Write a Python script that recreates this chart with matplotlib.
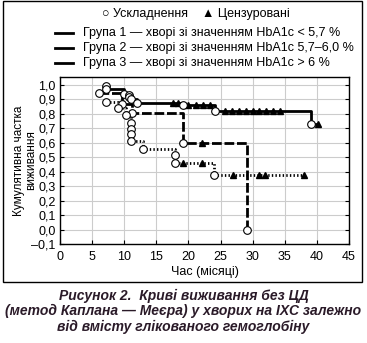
import numpy as np
import matplotlib
matplotlib.use('Agg')
import matplotlib.pyplot as plt
from matplotlib.lines import Line2D
from matplotlib.patches import Rectangle
from matplotlib.ticker import FuncFormatter, MultipleLocator

plt.rcParams['font.family'] = ['Liberation Sans', 'DejaVu Sans']

# group 1: HbA1c < 5.7 %
g1_event_t = [7.2, 7.2, 9.9, 10.7, 10.7, 11.0, 12.0, 19.1, 24.1, 39.1]
g1_event_s = [0.99, 0.97, 0.94, 0.93, 0.915, 0.90, 0.875, 0.86, 0.82, 0.73]
g1_cens_t = [17.6, 18.4, 20.0, 21.1, 22.2, 23.3, 25.7, 26.8, 27.8, 28.9,
             30.0, 31.0, 32.1, 33.2, 34.3, 40.2]

# group 2: HbA1c 5.7-6.0 %
g2_event_t = [6.0, 9.6, 11.2, 19.2, 29.1]
g2_event_s = [0.945, 0.87, 0.805, 0.60, 0.0]
g2_cens_t = [22.1]

# group 3: HbA1c > 6 %
g3_event_t = [7.2, 9.1, 10.2, 11.1, 11.1, 11.1, 11.1, 13.0, 17.9, 17.9, 24.0]
g3_event_s = [0.885, 0.84, 0.79, 0.735, 0.695, 0.66, 0.615, 0.556, 0.517, 0.458, 0.375]
g3_cens_t = [19.1, 22.1, 27.0, 31.0, 31.9, 38.0]

legend_labels = ['Група 1 — хворі зі значенням HbA1c < 5,7 %',
                 'Група 2 — хворі зі значенням HbA1c 5,7–6,0 %',
                 'Група 3 — хворі зі значенням HbA1c > 6 %']


def surv_at(t, ev_t, ev_s):
    s = ev_s[0]
    for et, es in zip(ev_t, ev_s):
        if et <= t:
            s = es
    return s


def draw_group(ax, ev_t, ev_s, cens_t, ls):
    end = max(ev_t[-1], max(cens_t))
    xs = list(ev_t) + [end]
    ys = list(ev_s) + [ev_s[-1]]
    ax.step(xs, ys, where='post', color='black', lw=2.0, ls=ls, zorder=3)
    cy = [surv_at(t, ev_t, ev_s) for t in cens_t]
    ax.plot(cens_t, cy, ls='none', marker='^', ms=5, color='black', zorder=5)
    ax.plot(ev_t, ev_s, ls='none', marker='o', ms=5.5, mfc='white', mec='black',
            mew=0.8, zorder=6)


fig = plt.figure(figsize=(3.67, 3.43), dpi=100)
ax = fig.add_axes([0.1635, 0.2886, 0.7875, 0.487])

draw_group(ax, g1_event_t, g1_event_s, g1_cens_t, '-')
draw_group(ax, g2_event_t, g2_event_s, g2_cens_t, (0, (3.5, 1)))
draw_group(ax, g3_event_t, g3_event_s, g3_cens_t, (0, (0.5, 0.8)))

ax.set_xlim(0, 45)
ax.set_ylim(-0.1, 1.055)
ax.xaxis.set_major_locator(MultipleLocator(5))
ax.yaxis.set_major_locator(MultipleLocator(0.1))
ax.yaxis.set_major_formatter(FuncFormatter(
    lambda v, p: ('–' if v < -1e-9 else '') + f'{abs(v):.1f}'.replace('.', ',')))
ax.grid(True, color='#cccccc', lw=0.8)
ax.set_axisbelow(True)
ax.tick_params(direction='in', length=3, labelsize=9, right=True, pad=3)
ax.tick_params(axis='x', pad=5)
for sp in ax.spines.values():
    sp.set_linewidth(1.0)
ax.set_xlabel('Час (місяці)', fontsize=9, labelpad=2)
ax.set_ylabel('Кумулятивна частка\nвиживання', fontsize=8.5, linespacing=1.0)
ax.yaxis.set_label_coords(-0.078, 0.5)

# legend
fig.text(0.535, 0.958, '○ Ускладнення    ▲ Цензуровані', ha='center', va='center',
         fontsize=9)
rows_y = [0.903, 0.860, 0.816]
for yy, lab in zip(rows_y, legend_labels):
    fig.add_artist(Line2D([55 / 367, 73 / 367], [yy, yy], color='black', lw=2.0))
    fig.text(83 / 367, yy, lab, ha='left', va='center', fontsize=9)

fig.add_artist(Rectangle((3 / 367, 61 / 343), 359 / 367, 281 / 343, fill=False,
                         ec='black', lw=1.0, transform=fig.transFigure))

caption = ('Рисунок 2.  Криві виживання без ЦД\n'
           '(метод Каплана — Меєра) у хворих на ІХС залежно\n'
           'від вмісту глікованого гемоглобіну')
fig.text(0.5, 0.093, caption, ha='center', va='center', fontsize=10,
         fontweight='bold', fontstyle='italic', color='#2a1a28', linespacing=1.12)

fig.savefig('out.png', dpi=100)
